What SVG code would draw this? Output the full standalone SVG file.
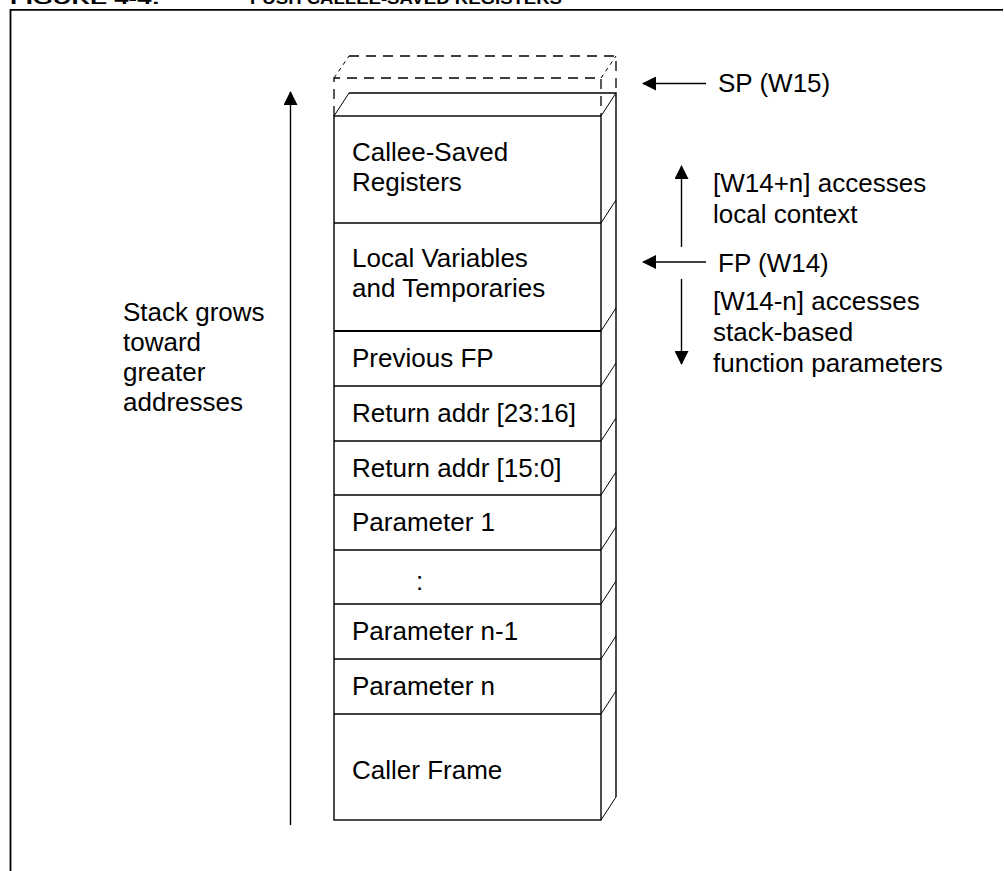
<svg xmlns="http://www.w3.org/2000/svg" width="1004" height="871" viewBox="0 0 1004 871">
<style>
text{font-family:"Liberation Sans",Arial,sans-serif;font-size:26px;fill:#000}
.title{font-weight:bold;font-size:17px}
.edge{stroke:#000;stroke-width:1.4;fill:none}
.diag{stroke:#000;stroke-width:1;fill:none}
.dash{stroke:#000;stroke-width:1.3;fill:none;stroke-dasharray:10 7}
.conn{stroke:#000;stroke-width:1.4;fill:none}
</style>
<defs>
<marker id="ah" viewBox="0 0 14 14" refX="13" refY="7" markerWidth="14" markerHeight="14" markerUnits="userSpaceOnUse" orient="auto">
<path d="M0,0 L14,7 L0,14 Z" fill="#000"/>
</marker>
</defs>
<rect width="1004" height="871" fill="#fff"/>
<g id="title">
<text class="title" x="10" y="4" textLength="150" lengthAdjust="spacingAndGlyphs">FIGURE 4-4:</text>
<text class="title" x="250" y="4" textLength="312" lengthAdjust="spacingAndGlyphs">PUSH CALLEE-SAVED REGISTERS</text>
</g>
<g id="frame">
<path d="M10.5,871 V9.8 H1003" stroke="#000" stroke-width="1.8" fill="none"/>
</g>
<g id="pushed-slot">
<path class="dash" d="M334,116 V78 H601 V116"/>
<path class="dash" d="M349,56 H616 V93"/>
<path class="diag" d="M334,78 L349,56" stroke-dasharray="4 4"/>
<path class="diag" d="M601,78 L616,56" stroke-dasharray="4 4"/>
</g>
<g id="stack-body">
<path class="edge" d="M349,93 H616 V797"/>
<path class="diag" d="M334,116 L349,93"/>
<path class="diag" d="M601,116 L616,93"/>
<rect class="edge" x="334" y="116" width="267" height="704"/>
<path class="diag" d="M601,820 L616,797"/>
</g>
<g id="callee-saved">
<text x="352" y="161">Callee-Saved</text>
<text x="352" y="191">Registers</text>
<path class="edge" d="M334,223 H601"/>
<path class="diag" d="M601,223 L616,200"/>
</g>
<g id="local-vars">
<text x="352" y="267">Local Variables</text>
<text x="352" y="297">and Temporaries</text>
<path d="M334,331 H601" stroke="#000" stroke-width="2.2"/>
<path class="diag" d="M601,331 L616,308"/>
</g>
<g id="previous-fp">
<text x="352" y="367">Previous FP</text>
<path class="edge" d="M334,386 H601"/>
<path class="diag" d="M601,386 L616,363"/>
</g>
<g id="return-hi">
<text x="352" y="422">Return addr [23:16]</text>
<path class="edge" d="M334,441 H601"/>
<path class="diag" d="M601,441 L616,418"/>
</g>
<g id="return-lo">
<text x="352" y="477">Return addr [15:0]</text>
<path class="edge" d="M334,495 H601"/>
<path class="diag" d="M601,495 L616,472"/>
</g>
<g id="param-1">
<text x="352" y="531">Parameter 1</text>
<path class="edge" d="M334,550 H601"/>
<path class="diag" d="M601,550 L616,527"/>
</g>
<g id="param-dots">
<text x="416" y="590">:</text>
<path class="edge" d="M334,604 H601"/>
<path class="diag" d="M601,604 L616,581"/>
</g>
<g id="param-n-1">
<text x="352" y="640">Parameter n-1</text>
<path class="edge" d="M334,659 H601"/>
<path class="diag" d="M601,659 L616,636"/>
</g>
<g id="param-n">
<text x="352" y="695">Parameter n</text>
<path class="edge" d="M334,714 H601"/>
<path class="diag" d="M601,714 L616,691"/>
</g>
<g id="caller-frame">
<text x="352" y="779">Caller Frame</text>
</g>
<g id="growth-label">
<text x="123" y="321">Stack grows</text>
<text x="123" y="351">toward</text>
<text x="123" y="381">greater</text>
<text x="123" y="411">addresses</text>
</g>
<g id="sp-label"><text x="718" y="92">SP (W15)</text></g>
<g id="fp-label"><text x="718" y="272">FP (W14)</text></g>
<g id="up-label">
<text x="713" y="192">[W14+n] accesses</text>
<text x="713" y="223">local context</text>
</g>
<g id="down-label">
<text x="713" y="310">[W14-n] accesses</text>
<text x="713" y="341">stack-based</text>
<text x="713" y="372">function parameters</text>
</g>
<g id="connectors">
<path class="conn" d="M290.5,825 V92" marker-end="url(#ah)"/>
<path class="conn" d="M706,83.5 H643" marker-end="url(#ah)"/>
<path class="conn" d="M706,262 H643" marker-end="url(#ah)"/>
<path class="conn" d="M681.5,247 V166" marker-end="url(#ah)"/>
<path class="conn" d="M681.5,279 V364" marker-end="url(#ah)"/>
</g>
</svg>
